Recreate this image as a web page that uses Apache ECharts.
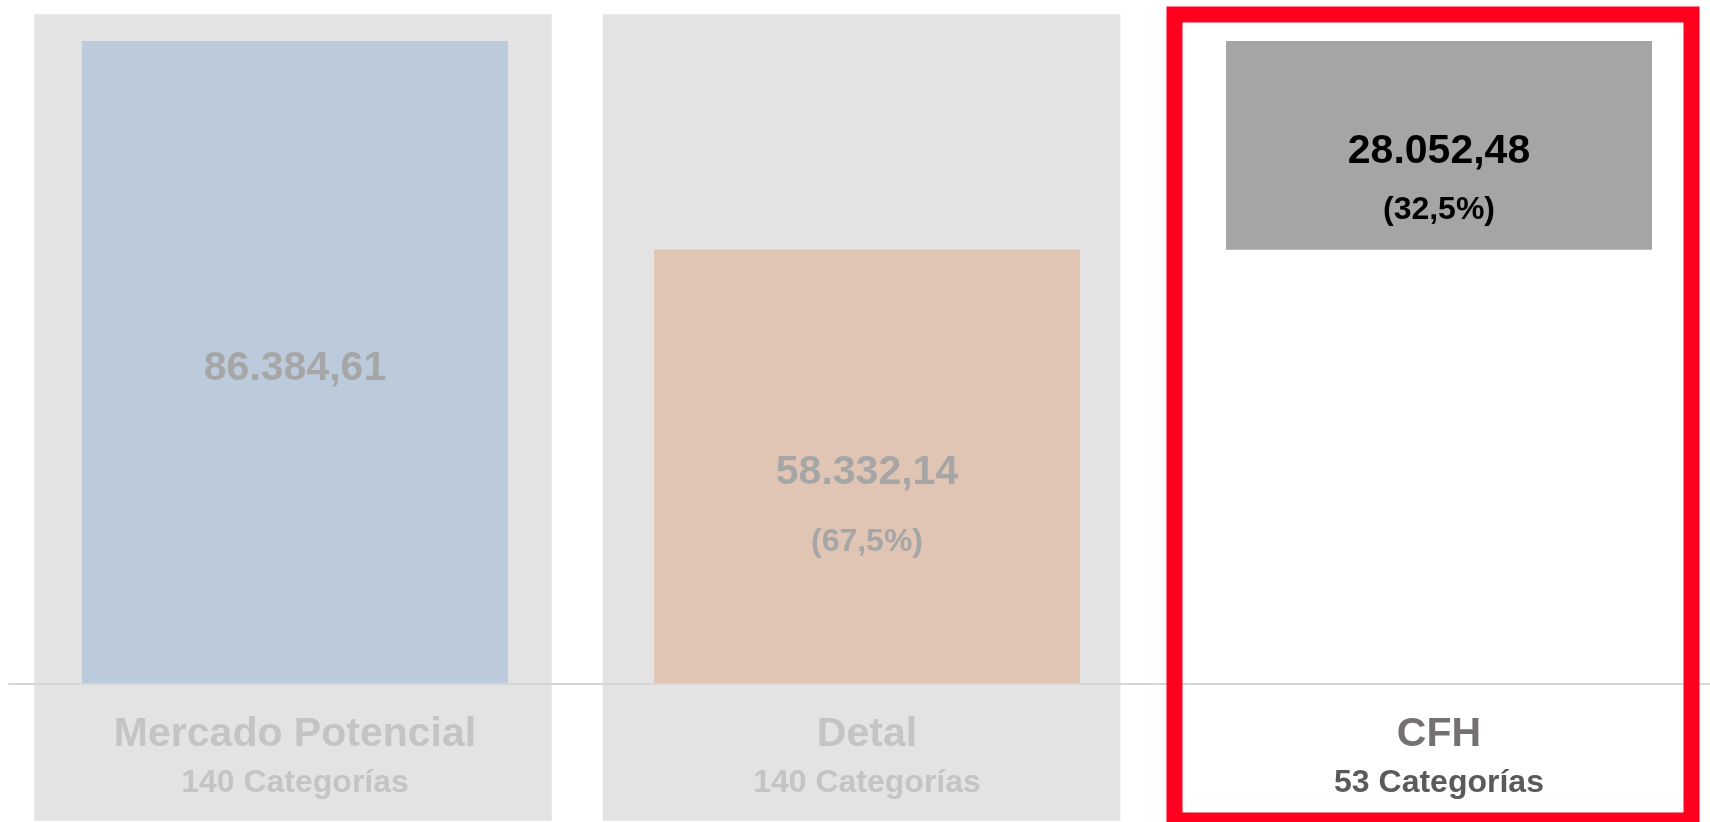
<!DOCTYPE html>
<html>
<head>
<meta charset="utf-8">
<script src="https://cdn.jsdelivr.net/npm/echarts@6/dist/echarts.min.js"></script>
<style>
  html, body { margin: 0; padding: 0; background: #fff; }
  #chart { width: 1710px; height: 822px; }
</style>
</head>
<body>
<div id="chart"></div>
<script>
const categories = ['Mercado Potencial', 'Detal', 'CFH'];
const categoryCounts = [140, 140, 53];
const baseValues = [0, 0, 58332.14];
const barValues = [86384.61, 58332.14, 28052.48];
const totalValue = 86384.61;
const highlightIndex = 2;

const barColors = ['#bccbdb', '#e0c4b4', '#a5a5a5'];
const font = '"Liberation Sans", Arial, sans-serif';
const panelShift = [-2, -5.5, -6];

// 1234.5 -> "1.234,50"
function fmtEs(v, d) {
  const parts = v.toFixed(d).split('.');
  const int = parts[0].replace(/\B(?=(\d{3})+(?!\d))/g, '.');
  return parts[1] ? int + ',' + parts[1] : int;
}

// distance between the value line and the percent line, per bar
const lineGaps = [0, 69, 59];
const valueShift = 6;

function labelFor(i) {
  const v = fmtEs(barValues[i], 2);
  const color = i === highlightIndex ? '#000' : '#a6a6a6';
  if (i === 0) {
    return {
      show: true, position: 'inside', offset: [0, valueShift],
      formatter: '{v|' + v + '}',
      rich: { v: { fontSize: 41, fontWeight: 'bold', color: color, fontFamily: font } }
    };
  }
  const pct = '(' + fmtEs(barValues[i] / totalValue * 100, 1) + '%)';
  const h = lineGaps[i];
  return {
    show: true, position: 'inside', offset: [0, valueShift + h / 2],
    formatter: '{v|' + v + '}\n{p|' + pct + '}',
    rich: {
      v: { fontSize: 41, fontWeight: 'bold', color: color, lineHeight: h, fontFamily: font },
      p: { fontSize: 32, fontWeight: 'bold', color: color, lineHeight: h, fontFamily: font }
    }
  };
}

function panelShape(params, api) {
  const cs = params.coordSys;
  const i = api.value(0);
  const cx = api.coord([i, 0])[0] + panelShift[i];
  const w = 517;
  const top = cs.y - 26.5;
  const bottom = cs.y + cs.height + 136.5;
  return { x: cx - w / 2, y: top, width: w, height: bottom - top };
}

// grey backdrop behind the plain categories
function renderPanel(params, api) {
  if (api.value(1)) return null;
  return { type: 'rect', shape: panelShape(params, api), style: { fill: '#e3e3e3', stroke: '#eaeaea', lineWidth: 1 } };
}

// red frame around the highlighted category
function renderFrame(params, api) {
  if (!api.value(1)) return null;
  return { type: 'rect', shape: panelShape(params, api), style: { fill: 'none', stroke: '#ff001e', lineWidth: 16 } };
}

const panelData = categories.map((c, i) => [i, i === highlightIndex ? 1 : 0]);

const chart = echarts.init(document.getElementById('chart'));
chart.setOption({
  animation: false,
  grid: { left: 9, width: 1716, top: 41, bottom: 138, outerBoundsMode: 'none', containLabel: false },
  xAxis: {
    type: 'category',
    data: categories,
    z: 5,
    axisTick: { show: false },
    axisLine: { lineStyle: { color: '#d6d6d6', width: 2 } },
    axisLabel: {
      interval: 0,
      margin: 27,
      formatter: function (val, i) {
        const sfx = i === highlightIndex ? 'h' : '';
        return '{a' + sfx + '|' + val + '}\n{b' + sfx + '|' + categoryCounts[i] + ' Categorías}';
      },
      rich: {
        a: { fontSize: 41, fontWeight: 'bold', color: '#c4c4c4', lineHeight: 48, fontFamily: font },
        b: { fontSize: 32, fontWeight: 'bold', color: '#c4c4c4', lineHeight: 48, fontFamily: font },
        ah: { fontSize: 41, fontWeight: 'bold', color: '#767171', lineHeight: 48, fontFamily: font },
        bh: { fontSize: 32, fontWeight: 'bold', color: '#5a5a5a', lineHeight: 48, fontFamily: font }
      }
    }
  },
  yAxis: { type: 'value', min: 0, max: totalValue, show: false },
  series: [
    {
      type: 'custom',
      silent: true,
      z: 1,
      renderItem: renderPanel,
      encode: { x: 0, y: 1 },
      data: panelData
    },
    {
      type: 'custom',
      silent: true,
      z: 10,
      renderItem: renderFrame,
      encode: { x: 0, y: 1 },
      data: panelData
    },
    {
      type: 'bar',
      stack: 'total',
      silent: true,
      barWidth: 426,
      z: 2,
      itemStyle: { color: 'transparent' },
      data: baseValues
    },
    {
      type: 'bar',
      stack: 'total',
      barWidth: 426,
      z: 2,
      data: barValues.map((v, i) => ({ value: v, itemStyle: { color: barColors[i] }, label: labelFor(i) }))
    }
  ]
});
</script>
</body>
</html>
